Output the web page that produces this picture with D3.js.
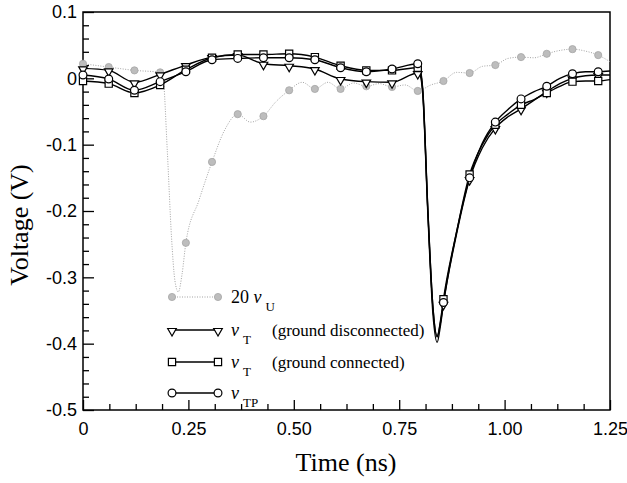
<!DOCTYPE html>
<html>
<head>
<meta charset="utf-8">
<script src="https://cdn.jsdelivr.net/npm/d3@7"></script>
<style>
  body { margin: 0; background: #fff; }
  svg { display: block; font-family: "Liberation Serif", "Times New Roman", serif; }
</style>
</head>
<body>
<div id="chart"></div>
<script>
// marker times (ns), one every ~0.061 ns
const markerTimes = [0, 0.061, 0.122, 0.183, 0.244, 0.306, 0.367, 0.428, 0.489, 0.550, 0.611,
  0.672, 0.733, 0.794, 0.855, 0.917, 0.978, 1.039, 1.100, 1.161, 1.222]

// grid for the three black curves
const tBlack = [0, 0.061, 0.122, 0.183, 0.244, 0.306, 0.367, 0.428, 0.489, 0.550, 0.611,
  0.672, 0.733, 0.794, 0.800, 0.806, 0.818, 0.830, 0.840, 0.848, 0.855, 0.886, 0.917,
  0.947, 0.978, 1.008, 1.039, 1.070, 1.100, 1.131, 1.161, 1.192, 1.222, 1.250]

const vTriangle = [0.015, 0.012, -0.006, 0.006, 0.020, 0.032, 0.035, 0.022, 0.019, 0.014, -0.001,
  -0.005, -0.006, 0.008, 0.004, -0.025, -0.205, -0.355, -0.398, -0.372, -0.340, -0.235, -0.152,
  -0.105, -0.075, -0.058, -0.046, -0.033, -0.020, -0.008, 0.000, 0.004, 0.005, 0.005]

const vSquare = [-0.004, -0.008, -0.022, -0.010, 0.013, 0.031, 0.036, 0.036, 0.037, 0.032, 0.019,
  0.012, 0.012, 0.016, 0.010, -0.020, -0.200, -0.345, -0.390, -0.365, -0.333, -0.232, -0.145,
  -0.100, -0.070, -0.054, -0.040, -0.032, -0.022, -0.012, -0.005, -0.004, -0.004, -0.002]

const vCircle = [0.005, -0.001, -0.018, -0.005, 0.010, 0.028, 0.030, 0.031, 0.031, 0.028, 0.016,
  0.010, 0.014, 0.022, 0.014, -0.018, -0.198, -0.345, -0.388, -0.368, -0.338, -0.232, -0.150,
  -0.098, -0.066, -0.047, -0.031, -0.020, -0.012, 0.000, 0.007, 0.010, 0.010, 0.011]

// grey curve 20 vU
const tGrey = [0, 0.061, 0.122, 0.183, 0.190, 0.200, 0.210, 0.218, 0.226, 0.235, 0.244, 0.275,
  0.306, 0.336, 0.367, 0.397, 0.428, 0.458, 0.489, 0.520, 0.550, 0.581, 0.611, 0.642, 0.672,
  0.703, 0.733, 0.764, 0.794, 0.825, 0.855, 0.886, 0.917, 0.947, 0.978, 1.008, 1.039, 1.070,
  1.100, 1.131, 1.161, 1.192, 1.222, 1.250]
const vGrey = [0.022, 0.017, 0.012, 0.009, 0.000, -0.110, -0.240, -0.305, -0.322, -0.295, -0.248, -0.184,
  -0.126, -0.078, -0.054, -0.066, -0.057, -0.035, -0.018, -0.006, -0.016, -0.006, -0.016, -0.007, -0.012,
  -0.008, -0.013, -0.010, -0.019, -0.010, -0.004, 0.009, 0.008, 0.018, 0.020, 0.030, 0.032, 0.031,
  0.037, 0.042, 0.044, 0.041, 0.035, 0.025]

const xMajor = [0, 0.25, 0.5, 0.75, 1.0, 1.25]
const xLabels = ["0", "0.25", "0.50", "0.75", "1.00", "1.25"]
const yMajor = [0.1, 0, -0.1, -0.2, -0.3, -0.4, -0.5]
const yLabels = ["0.1", "0", "-0.1", "-0.2", "-0.3", "-0.4", "-0.5"]

const legendSub = ["U", "T", "T", "TP"]
const legendNote = ["", "(ground disconnected)", "(ground connected)", ""]

const width = 627, height = 483
const svg = d3.select("#chart").append("svg").attr("width", width).attr("height", height)

const x = d3.scaleLinear().domain([0, 1.25]).range([83, 610])
const y = d3.scaleLinear().domain([-0.5, 0.1]).range([410, 12])

// minor ticks
const xMinor = d3.range(0, 1.2501, 0.0625).filter(v => !xMajor.some(m => Math.abs(m - v) < 1e-6))
const yMinor = d3.range(-0.5, 0.1001, 0.02).filter(v => !yMajor.some(m => Math.abs(m - v) < 1e-6))

const axisStyle = g => {
  g.select(".domain").remove()
  g.selectAll("line").attr("stroke", "#000").attr("stroke-width", 1.3)
  g.selectAll("text").attr("font-size", 18).attr("fill", "#000").attr("font-family", null)
}

svg.append("g").attr("transform", "translate(0,410)")
  .call(d3.axisBottom(x).tickValues(xMinor).tickSize(-6).tickFormat(""))
  .call(axisStyle)
svg.append("g").attr("transform", "translate(0,410)")
  .call(d3.axisBottom(x).tickValues(xMajor).tickSize(-10).tickPadding(12)
    .tickFormat((d, i) => xLabels[i]))
  .call(axisStyle)

svg.append("g").attr("transform", "translate(83,0)")
  .call(d3.axisLeft(y).tickValues(yMinor).tickSize(-6).tickFormat(""))
  .call(axisStyle)
svg.append("g").attr("transform", "translate(83,0)")
  .call(d3.axisLeft(y).tickValues(yMajor).tickSize(-11).tickPadding(6)
    .tickFormat((d, i) => yLabels[i]))
  .call(axisStyle)

// frame
svg.append("rect")
  .attr("x", x(0)).attr("y", y(0.1))
  .attr("width", x(1.25) - x(0)).attr("height", y(-0.5) - y(0.1))
  .attr("fill", "none").attr("stroke", "#000").attr("stroke-width", 1.5)

// axis titles
svg.append("text")
  .attr("x", 346).attr("y", 471)
  .attr("text-anchor", "middle").attr("font-size", 26)
  .text("Time (ns)")
svg.append("text")
  .attr("transform", "translate(28,225) rotate(-90)")
  .attr("text-anchor", "middle").attr("font-size", 26)
  .text("Voltage (V)")

const line = d3.line().x(d => x(d[0])).y(d => y(d[1])).curve(d3.curveMonotoneX)
const isMarker = t => markerTimes.some(m => Math.abs(m - t) < 1e-6)

const tri = d3.symbol().type(d3.symbolTriangle).size(32)
const sq = d3.symbol().type(d3.symbolSquare).size(52)
const circ = d3.symbol().type(d3.symbolCircle).size(48)

function drawMarker(g, kind, cx, cy) {
  if (kind === "grey") {
    g.append("circle").attr("cx", cx).attr("cy", cy).attr("r", 3.6)
      .attr("fill", "#bdbdbd").attr("stroke", "#a6a6a6").attr("stroke-width", 0.8)
  } else if (kind === "tri") {
    g.append("path").attr("d", tri()).attr("transform", `translate(${cx},${cy + 1}) rotate(180)`)
      .attr("fill", "#fff").attr("stroke", "#000").attr("stroke-width", 1.2)
  } else if (kind === "sq") {
    g.append("path").attr("d", sq()).attr("transform", `translate(${cx},${cy})`)
      .attr("fill", "#fff").attr("stroke", "#000").attr("stroke-width", 1.2)
  } else {
    g.append("path").attr("d", circ()).attr("transform", `translate(${cx},${cy})`)
      .attr("fill", "#fff").attr("stroke", "#000").attr("stroke-width", 1.2)
  }
}

const series = [
  { kind: "grey", t: tGrey, v: vGrey },
  { kind: "tri", t: tBlack, v: vTriangle },
  { kind: "sq", t: tBlack, v: vSquare },
  { kind: "circ", t: tBlack, v: vCircle }
]

const plot = svg.append("g")
series.forEach(s => {
  const pts = s.t.map((t, i) => [t, s.v[i]])
  const grey = s.kind === "grey"
  plot.append("path").attr("d", line(pts)).attr("fill", "none")
    .attr("stroke", grey ? "#999" : "#000")
    .attr("stroke-width", grey ? 0.9 : 1.4)
    .attr("stroke-dasharray", grey ? "1,1.5" : null)
})
series.forEach(s => {
  const g = plot.append("g")
  s.t.forEach((t, i) => {
    if (isMarker(t)) drawMarker(g, s.kind, x(t), y(s.v[i]))
  })
})

// legend
const legendY = [297, 330, 362, 393]
const legend = svg.append("g")
series.forEach((s, i) => {
  const ly = legendY[i]
  const grey = s.kind === "grey"
  legend.append("line").attr("x1", 172).attr("x2", 218).attr("y1", ly).attr("y2", ly)
    .attr("stroke", grey ? "#999" : "#000").attr("stroke-width", grey ? 0.9 : 1.3)
    .attr("stroke-dasharray", grey ? "1,1.5" : null)
  drawMarker(legend, s.kind, 172, ly)
  drawMarker(legend, s.kind, 218, ly)

  const txt = legend.append("text").attr("x", 231).attr("y", ly + 6).attr("font-size", 18)
  if (grey) txt.append("tspan").text("20 ")
  txt.append("tspan").attr("font-style", "italic").text("v")
  txt.append("tspan").attr("dx", 4).attr("dy", 8).attr("font-size", 13).text(legendSub[i])
  if (legendNote[i]) {
    legend.append("text").attr("x", 272).attr("y", ly + 6).attr("font-size", 17).text(legendNote[i])
  }
})
</script>
</body>
</html>
